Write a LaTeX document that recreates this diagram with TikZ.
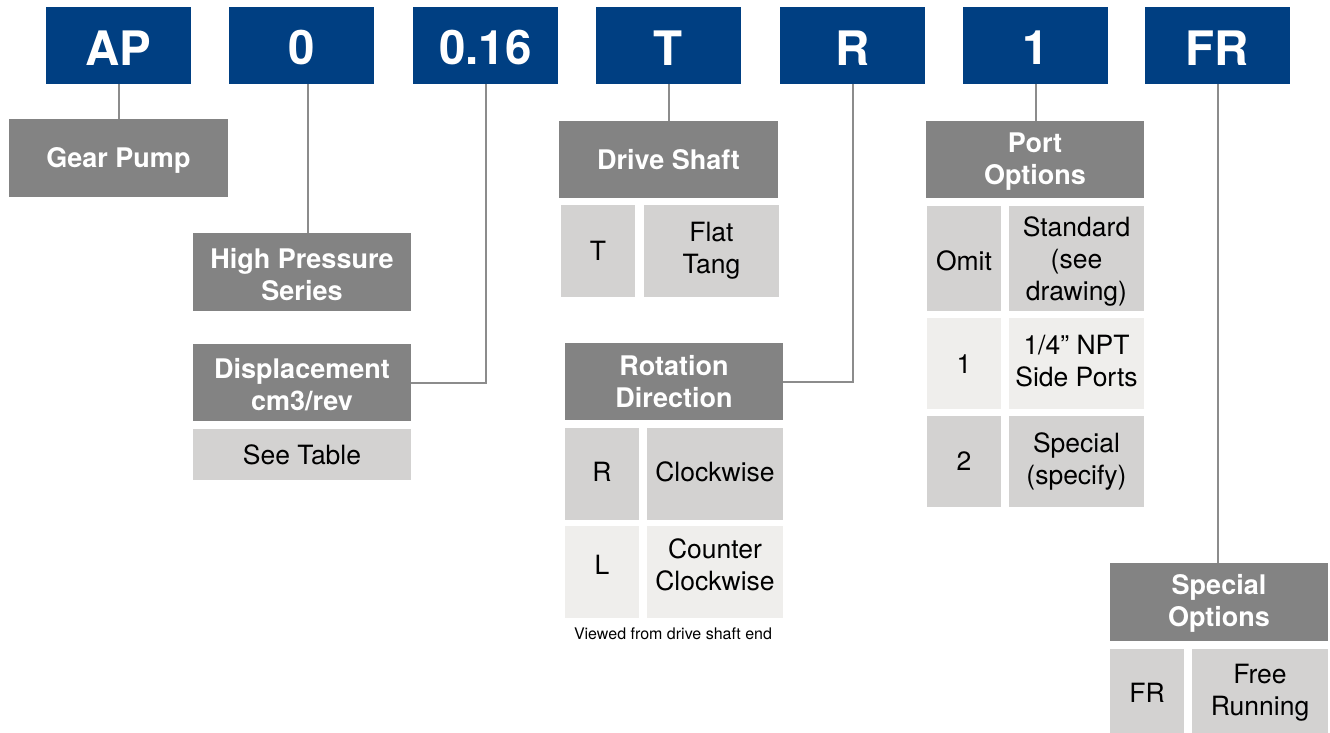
\documentclass[tikz,border=0pt]{standalone}
\usepackage{fontspec}
\setmainfont{TeX Gyre Heros}
\definecolor{pblue}{RGB}{0,63,130}
\definecolor{dgray}{RGB}{131,131,131}
\definecolor{lgray}{RGB}{211,210,209}
\definecolor{llgray}{RGB}{239,238,236}
\definecolor{lnk}{RGB}{140,140,140}
\begin{document}
\begin{tikzpicture}[x=1pt,y=-1pt,
  box/.style={anchor=north west, inner sep=0pt, outer sep=0pt, align=center},
  code/.style={box, fill=pblue, text=white, font=\fontsize{47.5}{50}\selectfont\bfseries, minimum width=145, minimum height=77},
  hdr/.style={box, fill=dgray, text=white, font=\fontsize{27}{32}\selectfont\bfseries, minimum width=218, minimum height=77},
  cell/.style={box, fill=lgray, text=black, font=\fontsize{26.5}{32}\selectfont},
  cella/.style={cell, fill=llgray},
  celltxt/.style={anchor=center, inner sep=0pt, align=center, text=black, font=\fontsize{26.5}{32}\selectfont},
  hdrtxt/.style={anchor=center, inner sep=0pt, align=center, text=white, font=\fontsize{27}{32}\selectfont\bfseries},
  codetxt/.style={anchor=center, inner sep=0pt, text=white, font=\fontsize{47.5}{50}\selectfont\bfseries},
  link/.style={draw=lnk, line width=2pt}]
\useasboundingbox (0,0) rectangle (1330,733);
% code boxes
\node[code] (ap) at (46,7) {};
\node[code] (b0) at (229,7) {};
\node[code] (b016) at (413,7) {};
\node[code] (bT) at (596,7) {};
\node[code] (bR) at (780,7) {};
\node[code] (b1) at (963,7) {};
\node[code] (bFR) at (1145,7) {};
\node[codetxt] (tap) at ([yshift=-2.5pt]ap.center) {AP};
\node[codetxt] (tb0) at ([yshift=-2.5pt]b0.center) {0};
\node[codetxt] (tb016) at ([yshift=-2.5pt]b016.center) {0.16};
\node[codetxt] (tbT) at ([yshift=-2.5pt]bT.center) {T};
\node[codetxt] (tbR) at ([yshift=-2.5pt]bR.center) {R};
\node[codetxt] (tb1) at ([yshift=-2.5pt]b1.center) {1};
\node[codetxt] (tbFR) at ([yshift=-2.5pt]bFR.center) {FR};
% headers
\node[hdr, minimum width=219, minimum height=78] (gear) at (9,119) {};
\node[hdrtxt] (tgear) at ([yshift=-2pt]gear.center) {Gear Pump};
\node[hdr, minimum height=78] (hp) at (193,233) {};
\node[hdrtxt] (thp) at ([yshift=-2.5pt]hp.center) {High Pressure\\Series};
\node[hdr] (disp) at (193,344) {};
\node[hdrtxt] (tdisp) at ([yshift=-2.5pt]disp.center) {Displacement\\cm3/rev};
\node[hdr, minimum width=219] (drive) at (559,121) {};
\node[hdrtxt] (tdrive) at (drive.center) {Drive Shaft};
\node[hdr] (rot) at (565,343) {};
\node[hdrtxt] (trot) at (rot.center) {Rotation\\Direction};
\node[hdr] (port) at (926,121) {};
\node[hdrtxt] (tport) at ([yshift=-2.5pt]port.center) {Port\\Options};
\node[hdr, minimum height=78] (spec) at (1110,563) {};
\node[hdrtxt] (tspec) at ([yshift=-1.5pt]spec.center) {Special\\Options};
% cells
\node[cell, minimum width=218, minimum height=51] (seetab) at (193,429) {See Table};
\node[cell, minimum width=74, minimum height=92] (tT) at (561,205) {T};
\node[cell, minimum width=135, minimum height=92] (tFlat) at (644,205) {Flat\\Tang};
\node[cell, minimum width=74, minimum height=92] (rR) at (565,428) {};
\node[celltxt] (trR) at ([yshift=2pt]rR.center) {R};
\node[cell, minimum width=136, minimum height=92] (rCW) at (647,428) {};
\node[celltxt] (trCW) at ([yshift=2pt]rCW.center) {Clockwise};
\node[cella, minimum width=74, minimum height=92] (rL) at (565,526) {};
\node[celltxt] (trL) at ([yshift=7pt]rL.center) {L};
\node[cella, minimum width=136, minimum height=92] (rCCW) at (647,526) {};
\node[celltxt] (trCCW) at ([yshift=7pt]rCCW.center) {Counter\\Clockwise};
\node[anchor=center, inner sep=0pt, font=\fontsize{16}{18}\selectfont] (viewed) at (673,634) {Viewed from drive shaft end};
\node[cell, minimum width=74, minimum height=105] (pOmit) at (927,206) {};
\node[celltxt] (tpOmit) at ([yshift=-2pt]pOmit.center) {Omit};
\node[cell, minimum width=135, minimum height=105] (pStd) at (1009,206) {};
\node[celltxt] (tpStd) at ([yshift=-3pt]pStd.center) {Standard\\(see\\drawing)};
\node[cella, minimum width=74, minimum height=91] (p1) at (927,318) {};
\node[celltxt] (tp1) at ([yshift=-1pt]p1.center) {1};
\node[cella, minimum width=135, minimum height=91] (p1t) at (1009,318) {};
\node[celltxt] (tp1t) at ([yshift=2pt]p1t.center) {1/4” NPT\\Side Ports};
\node[cell, minimum width=74, minimum height=91] (p2) at (927,416) {2};
\node[cell, minimum width=135, minimum height=91] (p2t) at (1009,416) {Special\\(specify)};
\node[cell, minimum width=74, minimum height=84] (sFR) at (1110,649) {};
\node[celltxt] (tsFR) at ([yshift=-2pt]sFR.center) {FR};
\node[cell, minimum width=136, minimum height=84] (sFree) at (1192,649) {};
\node[celltxt] (tsFree) at ([yshift=-2pt]sFree.center) {Free\\Running};
% connectors
\draw[link] (ap.south) -- (ap.south |- gear.north);
\draw[link] ([xshift=6pt]b0.south) -- ([xshift=6pt]b0.south |- hp.north);
\draw[link] (b016.south) |- (disp.east);
\draw[link] (bT.south) -- (bT.south |- drive.north);
\draw[link] (bR.south) |- (rot.east);
\draw[link] (b1.south) -- (b1.south |- port.north);
\draw[link] (bFR.south) -- (bFR.south |- spec.north);
\end{tikzpicture}
\end{document}
